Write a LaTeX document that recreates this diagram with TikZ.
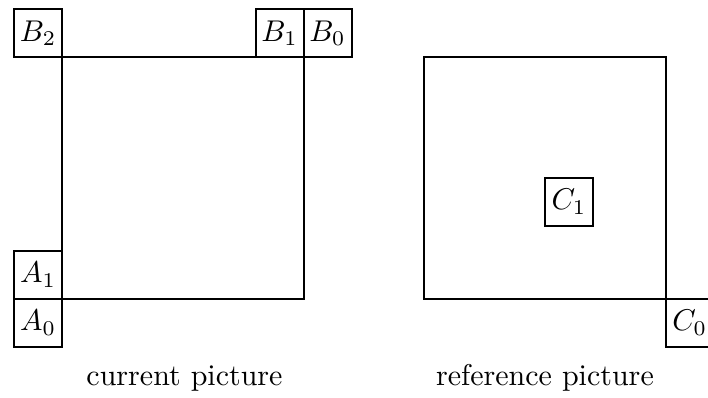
\documentclass[tikz,border=0pt]{standalone}
\usepackage{tikz}
\usetikzlibrary{positioning}

\begin{document}
\begin{tikzpicture}[x=1pt,y=1pt]
  \path[use as bounding box] (0,0) rectangle (236,132.67);
  \tikzset{
    frame/.style={draw,line width=0.6pt,minimum size=80.5pt,inner sep=0pt,outer sep=0pt},
    lbl/.style={draw,fill=white,line width=0.7pt,minimum size=16pt,inner sep=1pt,outer sep=0pt},
    caption/.style={anchor=base,inner sep=0pt}
  }
  \node[frame] (cur) at (60.95,73.35) {};
  \node[frame] (ref) at (181.65,73.35) {};

  \node[lbl,anchor=south east] (B2) at (cur.north west) {$B_2$};
  \node[lbl,anchor=south east] (B1) at (cur.north east) {$B_1$};
  \node[lbl,anchor=south west] (B0) at (cur.north east) {$B_0$};
  \node[lbl,anchor=south east] (A1) at (cur.south west) {$A_1$};
  \node[lbl,anchor=north east] (A0) at (cur.south west) {$A_0$};

  \node[lbl,anchor=north west] (C1) at (ref.center) {$C_1$};
  \node[lbl,anchor=north west] (C0) at (ref.south east) {$C_0$};

  \node[caption] (curtext) at (61.5,4.3) {current picture};
  \node[caption] (reftext) at (181.65,4.3) {reference picture};
\end{tikzpicture}
\end{document}
